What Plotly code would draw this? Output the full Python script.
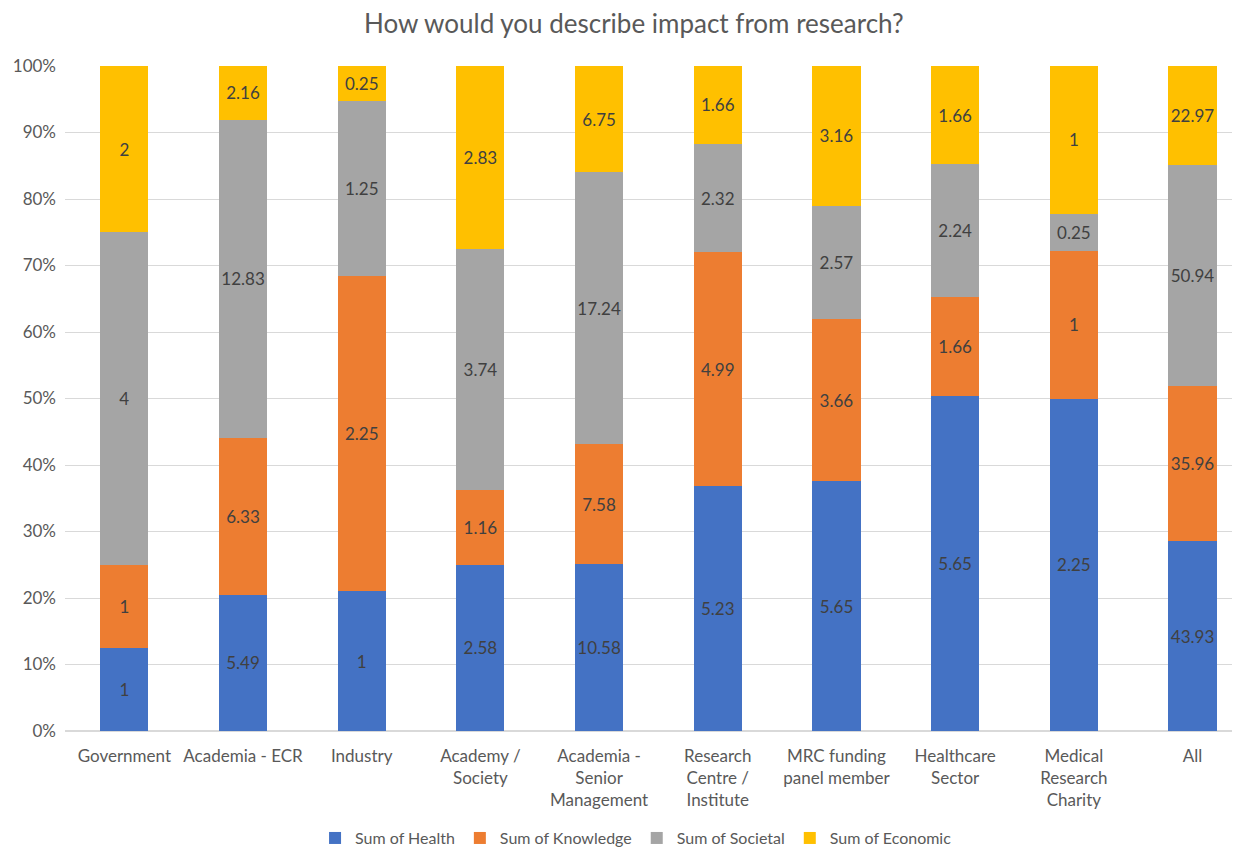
import plotly.graph_objects as go

categories = [
    "Government", "Academia - ECR", "Industry", "Academy /<br>Society",
    "Academia -<br>Senior<br>Management", "Research<br>Centre /<br>Institute",
    "MRC funding<br>panel member", "Healthcare<br>Sector",
    "Medical<br>Research<br>Charity", "All",
]
health = [1, 5.49, 1, 2.58, 10.58, 5.23, 5.65, 5.65, 2.25, 43.93]
knowledge = [1, 6.33, 2.25, 1.16, 7.58, 4.99, 3.66, 1.66, 1, 35.96]
societal = [4, 12.83, 1.25, 3.74, 17.24, 2.32, 2.57, 2.24, 0.25, 50.94]
economic = [2, 2.16, 0.25, 2.83, 6.75, 1.66, 3.16, 1.66, 1, 22.97]

series = [
    ("Sum of Health", health, "#4472C4"),
    ("Sum of Knowledge", knowledge, "#ED7D31"),
    ("Sum of Societal", societal, "#A5A5A5"),
    ("Sum of Economic", economic, "#FFC000"),
]

FONT = "Lato, 'Open Sans', sans-serif"

fig = go.Figure()
for name, vals, color in series:
    fig.add_trace(go.Bar(
        x=list(range(len(categories))), y=vals, name=name,
        marker=dict(color=color, line=dict(width=0)),
        text=[f"{v:g}" for v in vals],
        textposition="inside", insidetextanchor="middle",
        textfont=dict(color="#404040", size=17, family=FONT),
        textangle=0,
    ))

fig.update_layout(
    barmode="stack", barnorm="percent", bargap=0.595,
    width=1232, height=839,
    margin=dict(l=57, r=0, t=58, b=116, autoexpand=False),
    paper_bgcolor="white", plot_bgcolor="white",
    font=dict(family=FONT, color="#595959", size=17),
    title=dict(text="How would you describe impact from research?",
               x=0.508, xanchor="center", y=0.981, yanchor="middle",
               font=dict(size=26, color="#595959", family=FONT)),
    uniformtext=dict(minsize=17, mode="show"),
    legend=dict(orientation="h", x=0.486, xanchor="center", y=-0.161, yanchor="middle",
                font=dict(size=16, color="#595959"), traceorder="normal",
                itemwidth=30),
    showlegend=True,
)
fig.update_xaxes(
    tickmode="array", tickvals=list(range(len(categories))), ticktext=categories,
    range=[-0.5, 9.4], showgrid=False, showline=False, zeroline=False,
    ticks="", tickfont=dict(size=17, color="#595959"), ticklabelstandoff=13,
    automargin=False,
)
fig.update_yaxes(
    range=[0, 100], tickvals=list(range(0, 101, 10)),
    ticktext=[f"{v}%" for v in range(0, 101, 10)],
    showgrid=True, gridcolor="#D9D9D9", gridwidth=1,
    zeroline=True, zerolinecolor="#D9D9D9", showline=False,
    tickfont=dict(size=17, color="#595959"), ticks="", ticklabelstandoff=8,
    automargin=False,
)

fig.write_html("out.html")
